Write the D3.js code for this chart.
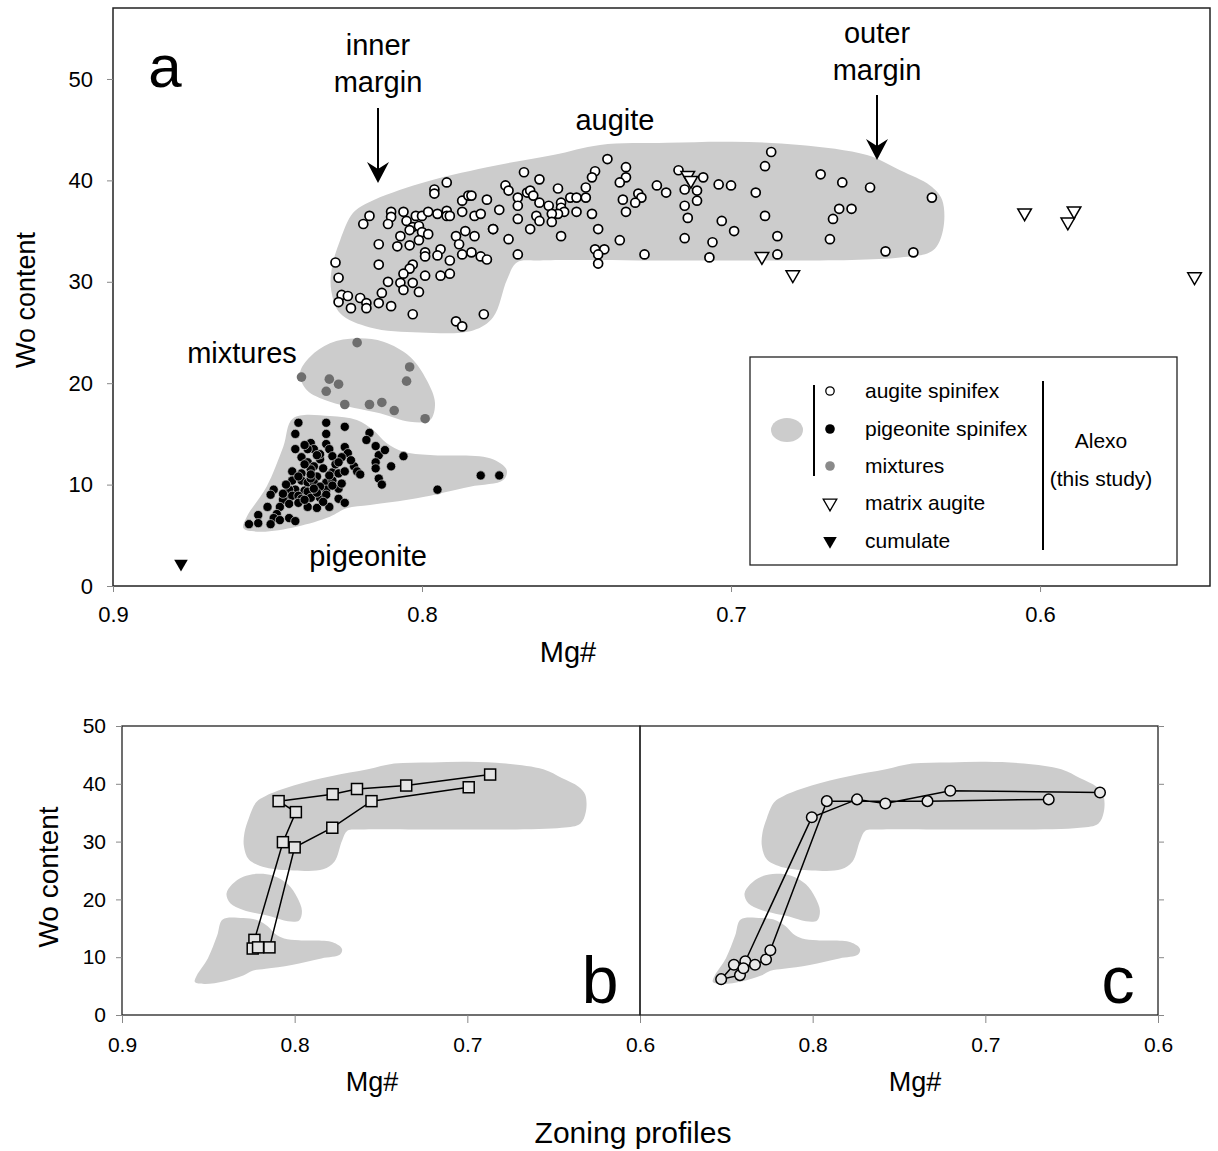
<!DOCTYPE html>
<meta charset="utf-8">
<html>
<body style="margin:0;background:#fff">
<script src="https://cdn.jsdelivr.net/npm/d3@7"></script>
<script type="text/javascript">
// augite spinifex [Mg#, Wo]
var augite = [
  [0.792,39.8],[0.796,39.1],[0.796,38.7],[0.817,36.5],[0.819,35.7],[0.810,36.9],[0.810,36.4],[0.811,35.7],
  [0.806,36.9],[0.805,36.0],[0.802,36.5],[0.800,36.5],[0.798,36.9],[0.795,36.7],[0.792,37.0],[0.792,36.5],
  [0.791,36.5],[0.787,38.0],[0.785,38.5],[0.784,38.5],[0.779,38.1],[0.787,36.9],[0.783,36.5],[0.781,36.7],
  [0.775,37.1],[0.803,35.4],[0.801,35.5],[0.804,35.1],[0.800,34.9],[0.798,34.7],[0.807,34.5],[0.801,34.1],
  [0.804,33.6],[0.808,33.5],[0.814,33.7],[0.789,34.5],[0.786,35.0],[0.783,34.5],[0.777,35.2],[0.788,33.7],
  [0.794,33.2],[0.795,32.6],[0.799,32.9],[0.799,32.5],[0.787,32.7],[0.784,32.9],[0.781,32.5],[0.779,32.2],
  [0.828,31.9],[0.814,31.7],[0.791,32.1],[0.803,31.7],[0.804,31.3],[0.806,30.8],[0.827,30.4],[0.811,30.0],
  [0.807,29.9],[0.806,29.2],[0.803,29.9],[0.801,29.0],[0.799,30.6],[0.794,30.6],[0.791,30.8],[0.813,28.9],
  [0.826,28.7],[0.824,28.6],[0.827,28.0],[0.823,27.4],[0.820,28.4],[0.818,27.9],[0.818,27.4],[0.814,27.9],
  [0.810,27.6],[0.803,26.8],[0.780,26.8],[0.789,26.1],[0.787,25.6],
  [0.740,42.1],[0.734,41.3],[0.734,40.3],[0.736,39.8],[0.744,40.9],[0.745,40.3],[0.747,39.3],[0.747,38.3],
  [0.767,40.8],[0.762,40.1],[0.773,39.5],[0.772,39.0],[0.766,38.8],[0.765,39.0],[0.764,38.5],[0.769,38.3],
  [0.769,37.5],[0.756,39.2],[0.762,37.8],[0.759,37.5],[0.755,37.8],[0.755,37.3],[0.752,38.3],[0.750,38.3],
  [0.754,36.9],[0.756,36.7],[0.758,36.7],[0.763,36.5],[0.762,36.0],[0.758,35.9],[0.750,36.9],[0.745,36.7],
  [0.769,36.2],[0.765,35.2],[0.777,35.2],[0.772,34.2],[0.769,32.7],[0.755,34.5],[0.743,35.2],[0.744,33.2],
  [0.741,33.2],[0.743,32.7],[0.743,31.8],[0.736,34.1],[0.728,32.7],[0.735,38.1],[0.730,38.7],[0.729,38.3],
  [0.731,37.8],[0.734,36.9],[0.724,39.5],[0.721,38.8],
  [0.717,41.0],[0.709,40.3],[0.715,39.1],[0.711,39.0],[0.711,38.0],[0.715,37.5],[0.714,36.3],[0.704,39.6],
  [0.700,39.5],[0.687,42.8],[0.689,41.4],[0.692,38.8],[0.671,40.6],[0.664,39.8],[0.655,39.3],[0.635,38.3],
  [0.689,36.5],[0.665,37.2],[0.661,37.2],[0.667,36.2],[0.703,36.0],[0.699,35.0],[0.685,34.5],[0.668,34.2],
  [0.715,34.3],[0.706,33.9],[0.707,32.4],[0.685,32.7],[0.650,33.0],[0.641,32.9]
];
// pigeonite spinifex
var pigeonite = [
  [0.840,16.1],[0.831,16.1],[0.825,15.7],[0.817,15.1],[0.841,15.0],[0.831,15.0],[0.836,14.1],[0.835,13.5],
  [0.837,13.5],[0.841,13.5],[0.831,14.0],[0.830,13.5],[0.825,13.7],[0.824,13.1],[0.829,12.8],[0.826,12.7],
  [0.815,13.8],[0.814,12.9],[0.806,12.8],[0.839,12.7],[0.837,12.2],[0.833,12.5],[0.835,11.8],[0.836,11.5],
  [0.834,10.8],[0.842,11.3],[0.839,11.1],[0.822,11.8],[0.821,11.3],[0.820,11.0],[0.815,12.2],[0.815,11.6],
  [0.810,11.8],[0.829,11.2],[0.827,11.1],[0.825,11.3],[0.814,10.6],[0.813,10.0],[0.842,10.4],[0.839,10.4],
  [0.837,10.2],[0.835,10.2],[0.831,10.2],[0.841,9.5],[0.838,9.4],[0.837,9.3],[0.831,9.5],[0.827,9.6],
  [0.843,9.5],[0.848,9.5],[0.849,9.0],[0.844,8.7],[0.842,8.9],[0.840,8.9],[0.839,8.6],[0.836,8.7],
  [0.833,8.7],[0.831,9.0],[0.845,8.5],[0.846,7.8],[0.843,8.1],[0.840,8.2],[0.837,7.8],[0.827,8.6],
  [0.825,8.2],[0.834,7.7],[0.830,7.8],[0.850,7.8],[0.853,7.0],[0.847,7.1],[0.848,6.7],[0.843,6.7],
  [0.841,6.4],[0.856,6.1],[0.853,6.2],[0.849,6.1],[0.846,6.5],[0.781,10.9],[0.775,10.9],[0.795,9.5],
  [0.838,12.0],[0.832,11.6],[0.836,10.6],[0.829,10.4],[0.833,9.8],[0.840,10.8],[0.834,9.2],[0.828,12.0],
  [0.838,8.5],[0.833,13.0],[0.827,12.2],[0.834,12.9],[0.838,13.9],[0.829,9.9],[0.835,9.6],[0.832,8.3],
  [0.844,10.0],[0.845,9.1],[0.836,11.0],[0.830,10.9],[0.826,10.1],[0.823,12.4],[0.818,14.4],[0.812,13.4]
];
var mixtures = [
  [0.821,24.0],[0.839,20.6],[0.830,20.4],[0.827,19.9],[0.831,19.2],[0.804,21.6],
  [0.805,20.2],[0.825,17.9],[0.817,17.9],[0.813,18.1],[0.809,17.3],[0.799,16.5]
];
var matrixAugite = [
  [0.714,40.5],[0.713,40.0],[0.690,32.5],[0.680,30.7],[0.605,36.8],[0.591,35.9],[0.589,37.0],[0.550,30.5]
];
var cumulate = [[0.878,2.2]];

// outlines of the grey fields
var augiteField = [
  [0.8291,31.5],[0.8294,29.2],[0.8265,26.9],[0.8168,25.5],[0.8006,25.0],[0.7835,25.2],[0.7770,26.5],
  [0.7725,30.2],[0.7693,31.9],[0.7618,32.1],[0.7100,32.1],[0.6453,32.4],[0.6346,33.1],[0.6314,35.1],
  [0.6317,38.1],[0.6356,39.5],[0.6453,41.0],[0.6560,42.5],[0.6777,43.5],[0.6994,43.8],[0.7207,43.7],
  [0.7424,43.5],[0.7576,42.5],[0.7790,41.3],[0.8006,39.7],[0.8168,37.9],[0.8223,36.8],[0.8265,34.1]
];
var mixField = [
  [0.8211,24.43],[0.8125,24.09],[0.8039,22.61],[0.7985,20.32],[0.7958,18.05],[0.7974,16.37],[0.8039,16.2],
  [0.8136,17.03],[0.8298,18.18],[0.8373,19.33],[0.8395,20.98],[0.8362,22.61],[0.8298,23.94]
];
var pigField = [
  [0.8417,16.54],[0.8298,16.77],[0.8211,16.37],[0.8158,15.38],[0.8114,14.07],[0.8061,13.24],[0.7974,12.92],
  [0.7780,12.59],[0.7726,11.44],[0.7737,10.45],[0.7845,9.79],[0.8017,8.65],[0.8168,7.99],[0.8244,7.66],
  [0.8298,6.83],[0.8406,5.85],[0.8524,5.36],[0.8578,5.69],[0.8567,6.83],[0.8503,9.79],[0.8449,13.74]
];

// zoning profiles
var profileB = [
  [0.6868,41.6],[0.7354,39.7],[0.7639,39.1],[0.7780,38.2],[0.8093,37.0],[0.7993,35.1],[0.8068,29.9],
  [0.8233,13.0],[0.8243,11.5],[0.8212,11.7],[0.8146,11.7],[0.8000,29.0],[0.7782,32.4],[0.7555,37.0],
  [0.6992,39.4]
];
var profileC = [
  [0.6336,38.5],[0.7203,38.8],[0.7579,36.6],[0.7743,37.3],[0.8005,34.2],[0.8390,9.3],[0.8456,8.7],
  [0.8530,6.2],[0.8421,6.9],[0.8401,8.1],[0.8334,8.7],[0.8270,9.6],[0.8245,11.2],[0.7918,37.0],
  [0.7335,37.0],[0.6633,37.3]
];

var woTicks = [0, 10, 20, 30, 40, 50];
var mgTicks = [0.9, 0.8, 0.7, 0.6];
var legendItems = ["augite spinifex", "pigeonite spinifex", "mixtures", "matrix augite", "cumulate"];

var font = "'Liberation Sans', Arial, sans-serif";
var fieldFill = "#cccccc";

var svg = d3.select("body").append("svg")
    .attr("width", 1218).attr("height", 1151)
    .style("font-family", font);

function fieldPath(x, y) {
  return d3.line().x(function (d) { return x(d[0]); }).y(function (d) { return y(d[1]); })
           .curve(d3.curveCatmullRomClosed.alpha(0.5));
}

function drawFields(g, x, y) {
  [augiteField, mixField, pigField].forEach(function (f) {
    g.append("path").attr("d", fieldPath(x, y)(f)).attr("fill", fieldFill);
  });
}

// ---------- panel a ----------
var xA = d3.scaleLinear().domain([0.9, 0.545]).range([113, 1210]);
var yA = d3.scaleLinear().domain([0, 57]).range([586, 8]);
var gA = svg.append("g");

drawFields(gA, xA, yA);

gA.append("rect").attr("x", 113).attr("y", 8).attr("width", 1097).attr("height", 578)
  .attr("fill", "none").attr("stroke", "#222").attr("stroke-width", 1.5);

var axA = gA.append("g").attr("transform", "translate(0,586)")
  .call(d3.axisBottom(xA).tickValues(mgTicks).tickFormat(d3.format(".1f")).tickSize(6).tickPadding(9));
var ayA = gA.append("g").attr("transform", "translate(113,0)")
  .call(d3.axisLeft(yA).tickValues(woTicks).tickSize(6).tickPadding(14));
[axA, ayA].forEach(function (a) {
  a.select(".domain").remove();
  a.selectAll("line").attr("stroke", "#888");
  a.selectAll("text").style("font-size", "22px").style("font-family", font).attr("fill", "#000");
});
axA.selectAll("text").attr("dy", "0.95em");

gA.selectAll(".pig").data(pigeonite).enter().append("circle")
  .attr("cx", function (d) { return xA(d[0]); }).attr("cy", function (d) { return yA(d[1]); })
  .attr("r", 4.6).attr("fill", "#000").attr("stroke", "#cfcfcf").attr("stroke-width", 0.7);

gA.selectAll(".mix").data(mixtures).enter().append("circle")
  .attr("cx", function (d) { return xA(d[0]); }).attr("cy", function (d) { return yA(d[1]); })
  .attr("r", 4.8).attr("fill", "#6e6e6e");

gA.selectAll(".aug").data(augite).enter().append("circle")
  .attr("cx", function (d) { return xA(d[0]); }).attr("cy", function (d) { return yA(d[1]); })
  .attr("r", 4.5).attr("fill", "#fff").attr("stroke", "#000").attr("stroke-width", 1.7);

var triDown = d3.symbol().type(d3.symbolTriangle).size(80);
gA.selectAll(".mtx").data(matrixAugite).enter().append("path")
  .attr("d", triDown)
  .attr("transform", function (d) { return "translate(" + xA(d[0]) + "," + yA(d[1]) + ") rotate(180)"; })
  .attr("fill", "#fff").attr("stroke", "#000").attr("stroke-width", 1.5);

gA.selectAll(".cum").data(cumulate).enter().append("path")
  .attr("d", triDown)
  .attr("transform", function (d) { return "translate(" + xA(d[0]) + "," + yA(d[1]) + ") rotate(180)"; })
  .attr("fill", "#000");

// annotations
function label(g, x, y, t, size, anchor) {
  return g.append("text").attr("x", x).attr("y", y).attr("text-anchor", anchor || "middle")
    .style("font-size", size + "px").text(t);
}
label(gA, 165, 87, "a", 60);
label(gA, 378, 55, "inner", 29);
label(gA, 378, 92, "margin", 29);
label(gA, 877, 43, "outer", 29);
label(gA, 877, 80, "margin", 29);
label(gA, 615, 130, "augite", 29);
label(gA, 242, 363, "mixtures", 29);
label(gA, 368, 566, "pigeonite", 29);
label(gA, 568, 662, "Mg#", 29);
gA.append("text").attr("transform", "translate(35,300) rotate(-90)").attr("text-anchor", "middle")
  .style("font-size", "27px").text("Wo content");

function arrow(g, x, y0, y1) {
  g.append("line").attr("x1", x).attr("x2", x).attr("y1", y0).attr("y2", y1 - 8)
    .attr("stroke", "#000").attr("stroke-width", 2);
  g.append("path")
    .attr("d", "M" + x + "," + y1 + " L" + (x - 11) + "," + (y1 - 21) + " L" + x + "," + (y1 - 14) +
               " L" + (x + 11) + "," + (y1 - 21) + " Z")
    .attr("fill", "#000");
}
arrow(gA, 378, 108, 183);
arrow(gA, 877, 95, 160);

// legend
var lg = gA.append("g");
lg.append("rect").attr("x", 750).attr("y", 357).attr("width", 427).attr("height", 208)
  .attr("fill", "#fff").attr("stroke", "#222").attr("stroke-width", 1.3);
lg.append("ellipse").attr("cx", 787).attr("cy", 430).attr("rx", 16).attr("ry", 12).attr("fill", fieldFill);
lg.append("line").attr("x1", 814).attr("x2", 814).attr("y1", 385).attr("y2", 476)
  .attr("stroke", "#000").attr("stroke-width", 2);
lg.append("line").attr("x1", 1043).attr("x2", 1043).attr("y1", 381).attr("y2", 550)
  .attr("stroke", "#000").attr("stroke-width", 2);
var legY = [391, 429, 466, 503, 541];
lg.append("circle").attr("cx", 830).attr("cy", legY[0]).attr("r", 4.2).attr("fill", "#fff")
  .attr("stroke", "#000").attr("stroke-width", 1.3);
lg.append("circle").attr("cx", 830).attr("cy", legY[1]).attr("r", 4.8).attr("fill", "#000");
lg.append("circle").attr("cx", 830).attr("cy", legY[2]).attr("r", 4.8).attr("fill", "#8a8a8a");
lg.append("path").attr("d", triDown).attr("transform", "translate(830," + legY[3] + ") rotate(180)")
  .attr("fill", "#fff").attr("stroke", "#000").attr("stroke-width", 1.3);
lg.append("path").attr("d", triDown).attr("transform", "translate(830," + legY[4] + ") rotate(180)")
  .attr("fill", "#000");
lg.selectAll(".lt").data(legendItems).enter().append("text")
  .attr("x", 865).attr("y", function (d, i) { return legY[i] + 7; })
  .style("font-size", "21px").text(function (d) { return d; });
label(lg, 1101, 448, "Alexo", 21);
label(lg, 1101, 486, "(this study)", 21);

// ---------- panels b and c ----------
var yBC = d3.scaleLinear().domain([0, 50]).range([1015, 726]);
function zoning(x0, x1, profile, marker, letter, showY, showFirst) {
  var x = d3.scaleLinear().domain([0.9, 0.6]).range([x0, x1]);
  var g = svg.append("g");
  drawFields(g, x, yBC);
  g.append("rect").attr("x", x0).attr("y", 726).attr("width", x1 - x0).attr("height", 289)
    .attr("fill", "none").attr("stroke", "#222").attr("stroke-width", 1.3);
  var ax = g.append("g").attr("transform", "translate(0,1015)")
    .call(d3.axisBottom(x).tickValues(showFirst ? mgTicks : mgTicks.slice(1))
      .tickFormat(d3.format(".1f")).tickSize(8).tickPadding(9));
  var ay = g.append("g").attr("transform", "translate(" + (showY ? x0 : x1) + ",0)")
    .call((showY ? d3.axisLeft(yBC) : d3.axisRight(yBC)).tickValues(woTicks).tickSize(6).tickPadding(10));
  if (!showY) ay.selectAll("text").remove();
  [ax, ay].forEach(function (a) {
    a.select(".domain").remove();
    a.selectAll("line").attr("stroke", "#888");
    a.selectAll("text").style("font-size", "21px").style("font-family", font).attr("fill", "#000");
  });
  ax.selectAll("text").attr("dy", "0.95em");

  g.append("path").datum(profile)
    .attr("d", d3.line().x(function (d) { return x(d[0]); }).y(function (d) { return yBC(d[1]); }))
    .attr("fill", "none").attr("stroke", "#000").attr("stroke-width", 1.5);
  if (marker === "square") {
    g.selectAll(".m").data(profile).enter().append("rect")
      .attr("x", function (d) { return x(d[0]) - 5.5; }).attr("y", function (d) { return yBC(d[1]) - 5.5; })
      .attr("width", 11).attr("height", 11)
      .attr("fill", "#e4e4e4").attr("stroke", "#000").attr("stroke-width", 1.5);
  } else {
    g.selectAll(".m").data(profile).enter().append("circle")
      .attr("cx", function (d) { return x(d[0]); }).attr("cy", function (d) { return yBC(d[1]); })
      .attr("r", 5.3).attr("fill", "#e8e8e8").attr("stroke", "#000").attr("stroke-width", 1.5);
  }
  label(g, x1 - 40, 1003, letter, 66);
  label(g, (x0 + x1) / 2 + 10 - (showY ? 19 : -6), 1091, "Mg#", 27);
}
zoning(122, 640, profileB, "square", "b", true, true);
zoning(640, 1158, profileC, "circle", "c", false, false);

svg.append("text").attr("transform", "translate(58,877) rotate(-90)").attr("text-anchor", "middle")
  .style("font-size", "28px").text("Wo content");
label(svg, 633, 1143, "Zoning profiles", 30);
</script>
</body>
</html>
